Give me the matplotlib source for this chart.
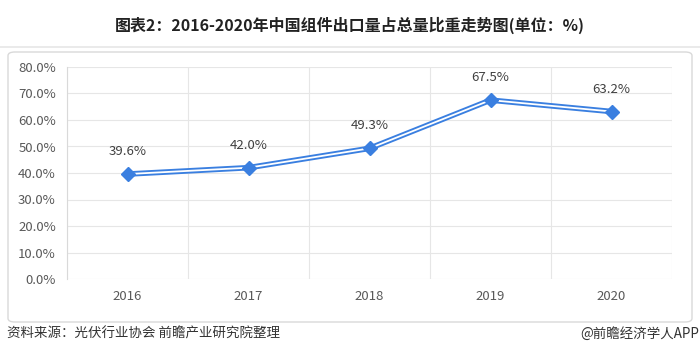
import matplotlib.pyplot as plt
from matplotlib.patches import FancyBboxPatch
from matplotlib.lines import Line2D

plt.rcParams['font.family'] = ['Noto Sans CJK SC', 'DejaVu Sans']

years = ['2016', '2017', '2018', '2019', '2020']
share = [39.6, 42.0, 49.3, 67.5, 63.2]
labels = ['39.6%', '42.0%', '49.3%', '67.5%', '63.2%']
yticks = [0, 10, 20, 30, 40, 50, 60, 70, 80]

fig = plt.figure(figsize=(7, 3.64), dpi=100)

# title and separator
fig.text(0.5, 1 - 25 / 364, '图表2：2016-2020年中国组件出口量占总量比重走势图(单位：%)',
         ha='center', va='center', fontsize=11.5, fontweight='bold', color='#222222')
fig.add_artist(Line2D([0, 1], [1 - 47 / 364] * 2, color='#e6e6e6', lw=1.2))

# outer rounded frame
frame = FancyBboxPatch((8 / 700, 1 - 322 / 364), 684 / 700, 270 / 364,
                       boxstyle='round,pad=0,rounding_size=0.01',
                       transform=fig.transFigure, fill=False,
                       edgecolor='#d9d9d9', lw=1)
fig.add_artist(frame)

ax = fig.add_axes([67 / 700, 1 - 279 / 364, 605 / 700, 212 / 364])
x = list(range(len(years)))
ax.plot(x, share, color='#3a7fe0', lw=4, zorder=3)
ax.plot(x, share, color='white', lw=1.3, zorder=4)
ax.plot(x, share, ls='none', marker='D', ms=7, color='#3a7fe0', zorder=5)
for xi, v, t in zip(x, share, labels):
    ax.text(xi, v + 6, t, ha='center', va='bottom', fontsize=9.5, color='#404040')

ax.set_xlim(-0.5, len(years) - 0.5)
ax.set_ylim(0, 80)
ax.set_yticks(yticks)
ax.set_yticklabels([f'{v:.1f}%' for v in yticks])
ax.set_xticks(x)
ax.set_xticklabels(years)
ax.set_xticks([i - 0.5 for i in range(len(years) + 1)], minor=True)
ax.grid(axis='y', color='#e6e6e6', lw=0.8)
ax.grid(axis='x', which='minor', color='#e6e6e6', lw=0.8)
ax.tick_params(axis='both', which='both', length=0, labelsize=9.5, colors='#595959', pad=8)
for s in ['top', 'right', 'bottom']:
    ax.spines[s].set_visible(False)
ax.spines['left'].set_color('#d9d9d9')
ax.set_axisbelow(True)

fig.text(7 / 700, 1 - 334 / 364, '资料来源：光伏行业协会 前瞻产业研究院整理',
         ha='left', va='center', fontsize=9.7, color='#333333')
fig.text(699 / 700, 1 - 334 / 364, '@前瞻经济学人APP',
         ha='right', va='center', fontsize=9.7, color='#333333')

fig.savefig('out.png', dpi=100)
